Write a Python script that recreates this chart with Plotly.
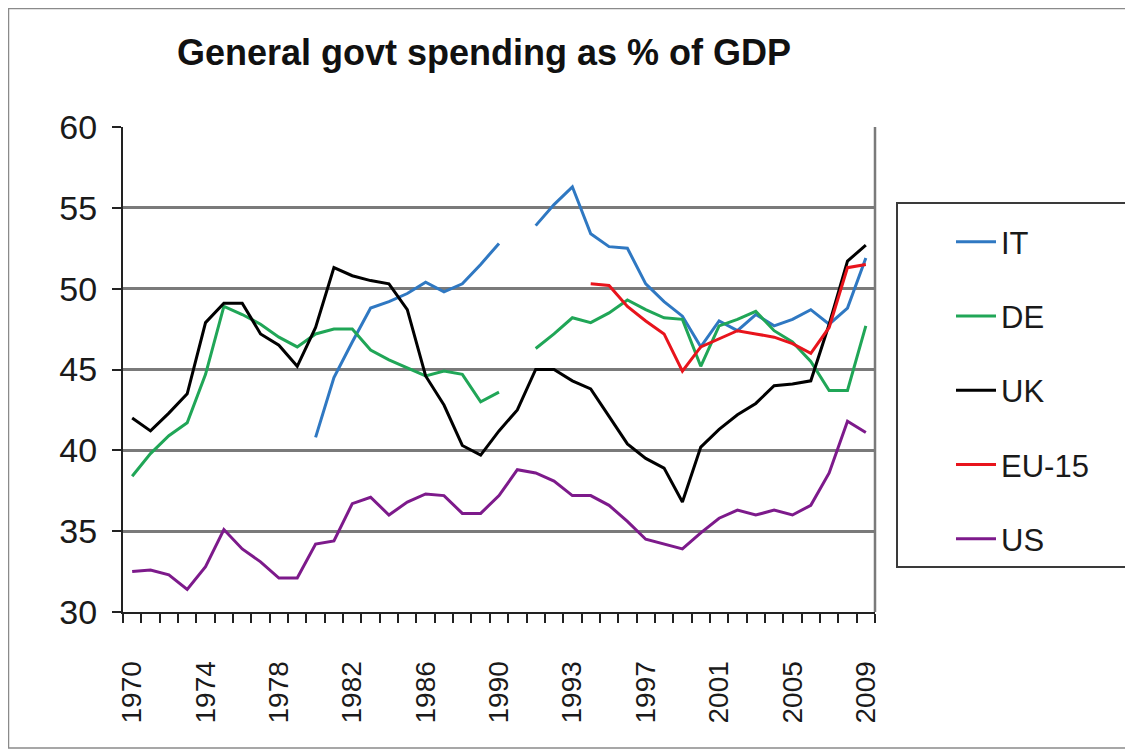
import plotly.graph_objects as go

# 41 categories: 1991 appears twice (German unification break)
years = list(range(1970, 1992)) + [1991] + list(range(1992, 2010))
tick_every = 4

it = [None] * 10 + [40.8, 44.5, 46.7, 48.8, 49.2, 49.7, 50.4, 49.8, 50.3, 51.5, 52.8,
                    None,
                    53.9, 55.2, 56.3, 53.4, 52.6, 52.5, 50.3, 49.2, 48.3, 46.4,
                    48.0, 47.4, 48.4, 47.7, 48.1, 48.7, 47.8, 48.8, 51.9]
de = [38.4, 39.8, 40.9, 41.7, 44.7, 48.9, 48.4, 47.8, 47.0, 46.4, 47.2, 47.5, 47.5,
      46.2, 45.6, 45.1, 44.6, 44.9, 44.7, 43.0, 43.6,
      None,
      46.3, 47.2, 48.2, 47.9, 48.5, 49.3, 48.7, 48.2, 48.1, 45.2, 47.7, 48.1, 48.6,
      47.4, 46.7, 45.5, 43.7, 43.7, 47.7]
uk = [42.0, 41.2, 42.3, 43.5, 47.9, 49.1, 49.1, 47.2, 46.5, 45.2, 47.6, 51.3, 50.8,
      50.5, 50.3, 48.7, 44.6, 42.8, 40.3, 39.7, 41.2, 42.5, 45.0, 45.0, 44.3, 43.8,
      42.1, 40.4, 39.5, 38.9, 36.8, 40.2, 41.3, 42.2, 42.9, 44.0, 44.1, 44.3, 47.8,
      51.7, 52.7]
eu15 = [None] * 25 + [50.3, 50.2, 48.9, 48.0, 47.2, 44.9, 46.4, 46.9, 47.4, 47.2,
                      47.0, 46.6, 46.0, 47.6, 51.3, 51.5]
us = [32.5, 32.6, 32.3, 31.4, 32.8, 35.1, 33.9, 33.1, 32.1, 32.1, 34.2, 34.4, 36.7,
      37.1, 36.0, 36.8, 37.3, 37.2, 36.1, 36.1, 37.2, 38.8, 38.6, 38.1, 37.2, 37.2,
      36.6, 35.6, 34.5, 34.2, 33.9, 34.9, 35.8, 36.3, 36.0, 36.3, 36.0, 36.6, 38.6,
      41.8, 41.1]

series = [("IT", it, "#2f78c2"), ("DE", de, "#20a657"), ("UK", uk, "#000000"),
          ("EU-15", eu15, "#e8141c"), ("US", us, "#7d1a8b")]

x = list(range(len(years)))
font = "Liberation Sans, Arial, sans-serif"

fig = go.Figure()
for name, vals, color in series:
    fig.add_trace(go.Scatter(
        x=x, y=vals, name=name, mode="lines", legendgroup=name,
        line=dict(color=color, width=3), connectgaps=False,
    ))

# page has an 8px body margin, so the figure is drawn 8px in from the window
W, H = 1125, 743
L, R, T, B = 115, 867, 119, 604
pw, ph = R - L, B - T


def px(v):
    return (v - L) / pw


def py(v):
    return (B - v) / ph


fig.update_layout(
    width=W, height=H,
    margin=dict(l=L, r=W - R, t=T, b=H - B),
    paper_bgcolor="white", plot_bgcolor="white",
    font=dict(family=font, color="#1a1a1a"),
    title=dict(text="<b>General govt spending as % of GDP</b>",
               x=476 / W, xanchor="center", y=1 - 44 / H, yanchor="middle",
               font=dict(size=36, family=font, color="#111111")),
    showlegend=True,
    legend=dict(x=px(943), y=py(207), xanchor="left", yanchor="top",
                font=dict(size=31, family=font), tracegroupgap=31,
                bgcolor="rgba(0,0,0,0)", borderwidth=0, itemwidth=40),
    shapes=[
        dict(type="rect", xref="paper", yref="paper",
             x0=px(889), x1=px(1121), y0=py(559), y1=py(195),
             line=dict(color="#3a3a3a", width=2)),
        dict(type="rect", xref="paper", yref="paper",
             x0=px(0.5), x1=px(1122), y0=py(740), y1=py(0.5),
             line=dict(color="#8a8a8a", width=1.5)),
    ],
)

fig.update_xaxes(
    range=[-0.5, len(years) - 0.5],
    tickmode="array",
    tickvals=x[::tick_every],
    ticktext=[str(y) for y in years[::tick_every]],
    tickangle=-90,
    ticks="", ticklen=0, ticklabelstandoff=36,
    tickfont=dict(size=28, family=font, color="#1a1a1a"),
    showgrid=False,
    showline=True, linecolor="#222222", linewidth=2, mirror=False,
    minor=dict(tickmode="linear", tick0=-0.5, dtick=1, ticks="outside",
               ticklen=9, tickwidth=2, tickcolor="#222222", showgrid=False),
    zeroline=False,
)
fig.update_yaxes(
    range=[30, 60], dtick=5, tick0=30,
    ticks="outside", ticklen=9, tickwidth=2, tickcolor="#222222",
    ticklabelstandoff=8,
    tickfont=dict(size=34, family=font, color="#1a1a1a"),
    showgrid=True, gridcolor="#7a7a7a", gridwidth=2.5,
    showline=True, linecolor="#222222", linewidth=2,
    zeroline=False,
)
# right border of plot area
fig.add_shape(type="line", xref="paper", yref="paper", x0=1, x1=1, y0=0, y1=1,
              line=dict(color="#7a7a7a", width=2.5))

fig.write_html("out.html")
